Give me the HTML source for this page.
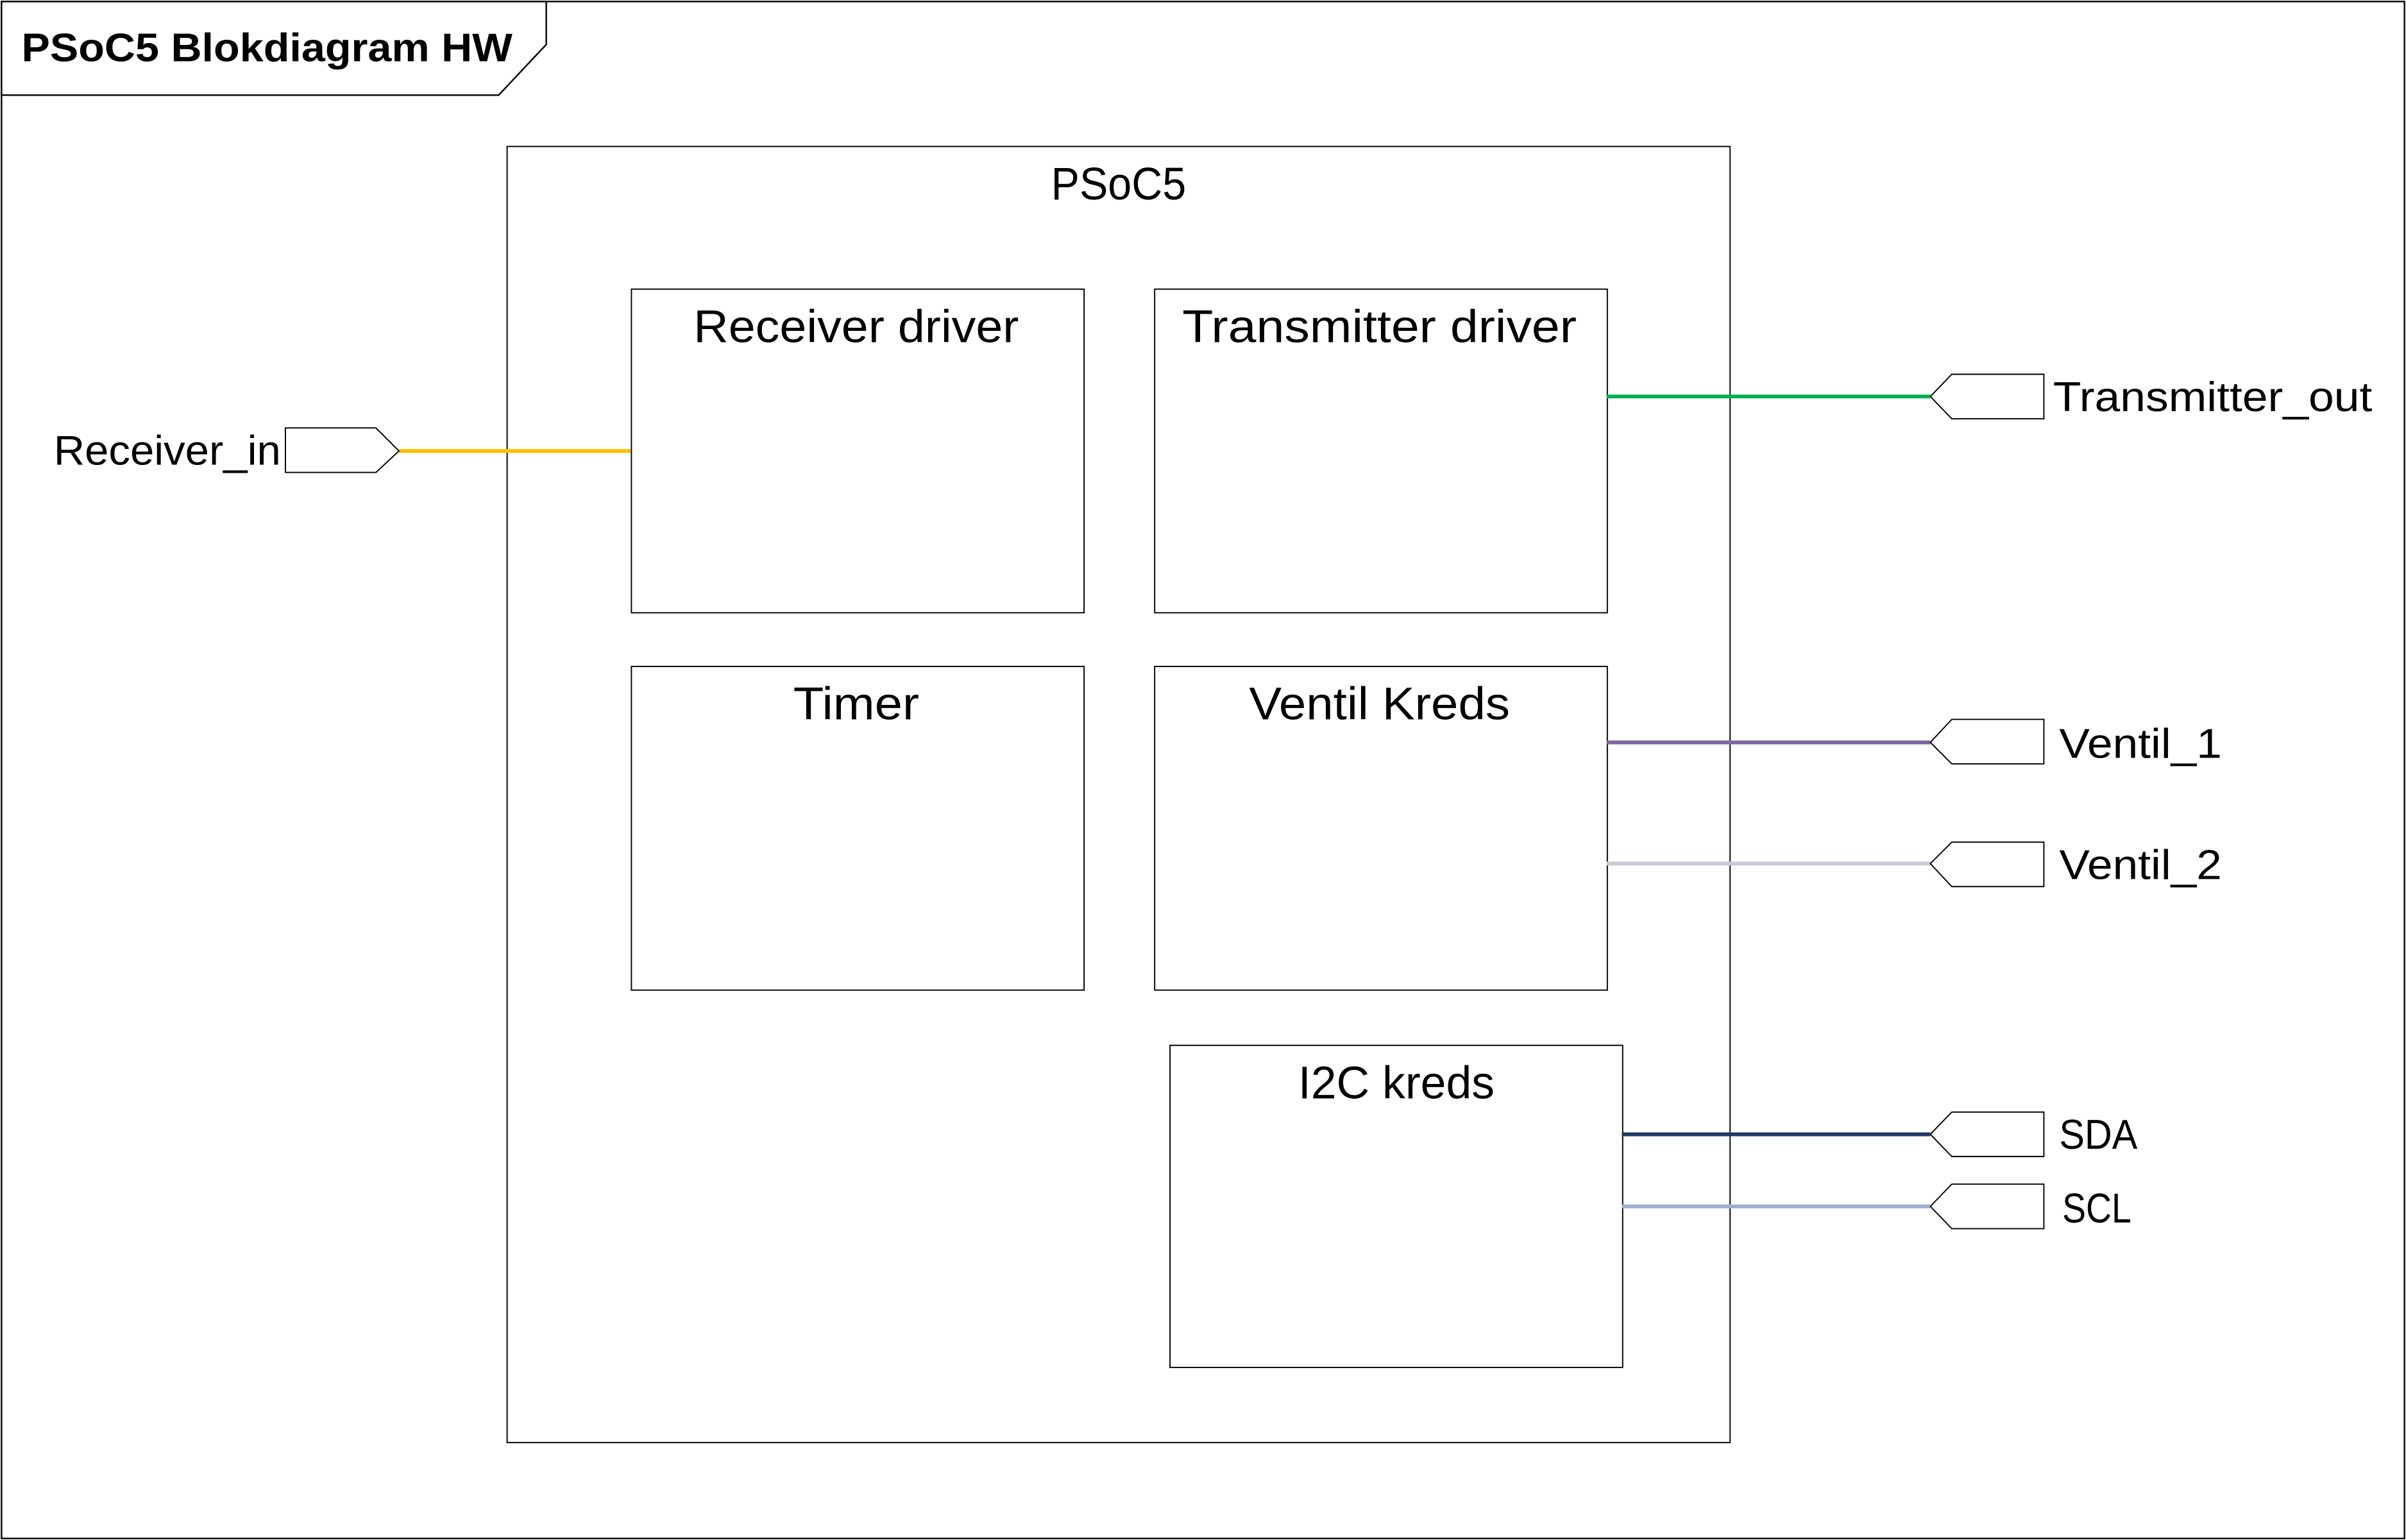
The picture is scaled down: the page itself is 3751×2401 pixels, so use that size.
<!DOCTYPE html>
<html><head><meta charset="utf-8"><style>
html,body{margin:0;padding:0;background:#fff;}
svg{display:block;}
text{font-family:"Liberation Sans",sans-serif;fill:#000;}
</style></head><body>
<svg width="3751" height="2401" viewBox="0 0 1568 1004" preserveAspectRatio="none" xmlns="http://www.w3.org/2000/svg">
<rect x="0" y="0" width="1568" height="1004" fill="#fff"/>
<rect x="1" y="1" width="1566" height="1002" fill="none" stroke="#000" stroke-width="1"/>
<polygon points="1,1 356,1 356,29 325,62 1,62" fill="#fff" stroke="#000" stroke-width="1"/>
<text x="14" y="40" font-size="26" font-weight="bold" textLength="320" lengthAdjust="spacingAndGlyphs">PSoC5 Blokdiagram HW</text>

<rect x="330.5" y="95.5" width="797" height="845" fill="none" stroke="#000" stroke-width="0.8"/>
<text x="729" y="130" font-size="30" text-anchor="middle" textLength="88" lengthAdjust="spacingAndGlyphs">PSoC5</text>

<rect x="411.5" y="188.5" width="295" height="211" fill="none" stroke="#000" stroke-width="0.8"/>
<text x="558" y="223" font-size="30" text-anchor="middle" textLength="212" lengthAdjust="spacingAndGlyphs">Receiver driver</text>
<rect x="752.5" y="188.5" width="295" height="211" fill="none" stroke="#000" stroke-width="0.8"/>
<text x="899" y="223" font-size="30" text-anchor="middle" textLength="257" lengthAdjust="spacingAndGlyphs">Transmitter driver</text>
<rect x="411.5" y="434.5" width="295" height="211" fill="none" stroke="#000" stroke-width="0.8"/>
<text x="558" y="469" font-size="30" text-anchor="middle" textLength="82" lengthAdjust="spacingAndGlyphs">Timer</text>
<rect x="752.5" y="434.5" width="295" height="211" fill="none" stroke="#000" stroke-width="0.8"/>
<text x="899" y="469" font-size="30" text-anchor="middle" textLength="170" lengthAdjust="spacingAndGlyphs">Ventil Kreds</text>
<rect x="762.5" y="681.5" width="295" height="210" fill="none" stroke="#000" stroke-width="0.8"/>
<text x="910" y="716" font-size="30" text-anchor="middle" textLength="128" lengthAdjust="spacingAndGlyphs">I2C kreds</text>

<!-- connectors -->
<line x1="260" y1="294" x2="411" y2="294" stroke="#ffc000" stroke-width="2.5"/>
<line x1="1047" y1="258.5" x2="1258" y2="258.5" stroke="#00b050" stroke-width="2.5"/>
<line x1="1047" y1="484" x2="1258" y2="484" stroke="#8064a2" stroke-width="2.5"/>
<line x1="1047" y1="563" x2="1258" y2="563" stroke="#ccc7da" stroke-width="2.5"/>
<line x1="1057" y1="739.5" x2="1258" y2="739.5" stroke="#1f3864" stroke-width="2.5"/>
<line x1="1057" y1="786.5" x2="1258" y2="786.5" stroke="#9bb0d2" stroke-width="2.5"/>

<!-- ports -->
<polygon points="186,279 245,279 260,294 245,308 186,308" fill="#fff" stroke="#000" stroke-width="0.8"/>
<text x="183" y="303" font-size="27" text-anchor="end" textLength="148" lengthAdjust="spacingAndGlyphs">Receiver_in</text>

<polygon points="1258,258.5 1272,244 1332,244 1332,273 1272,273" fill="#fff" stroke="#000" stroke-width="0.8"/>
<text x="1338" y="268" font-size="27" textLength="208" lengthAdjust="spacingAndGlyphs">Transmitter_out</text>

<polygon points="1258,484 1272,469 1332,469 1332,498 1272,498" fill="#fff" stroke="#000" stroke-width="0.8"/>
<text x="1342" y="494" font-size="27" textLength="106" lengthAdjust="spacingAndGlyphs">Ventil_1</text>

<polygon points="1258,563 1272,549 1332,549 1332,578 1272,578" fill="#fff" stroke="#000" stroke-width="0.8"/>
<text x="1342" y="573" font-size="27" textLength="106" lengthAdjust="spacingAndGlyphs">Ventil_2</text>

<polygon points="1258,739.5 1272,725 1332,725 1332,754 1272,754" fill="#fff" stroke="#000" stroke-width="0.8"/>
<text x="1342" y="749" font-size="27" textLength="51" lengthAdjust="spacingAndGlyphs">SDA</text>

<polygon points="1258,786.5 1272,772 1332,772 1332,801 1272,801" fill="#fff" stroke="#000" stroke-width="0.8"/>
<text x="1344" y="797" font-size="27" textLength="45" lengthAdjust="spacingAndGlyphs">SCL</text>
</svg>
</body></html>
